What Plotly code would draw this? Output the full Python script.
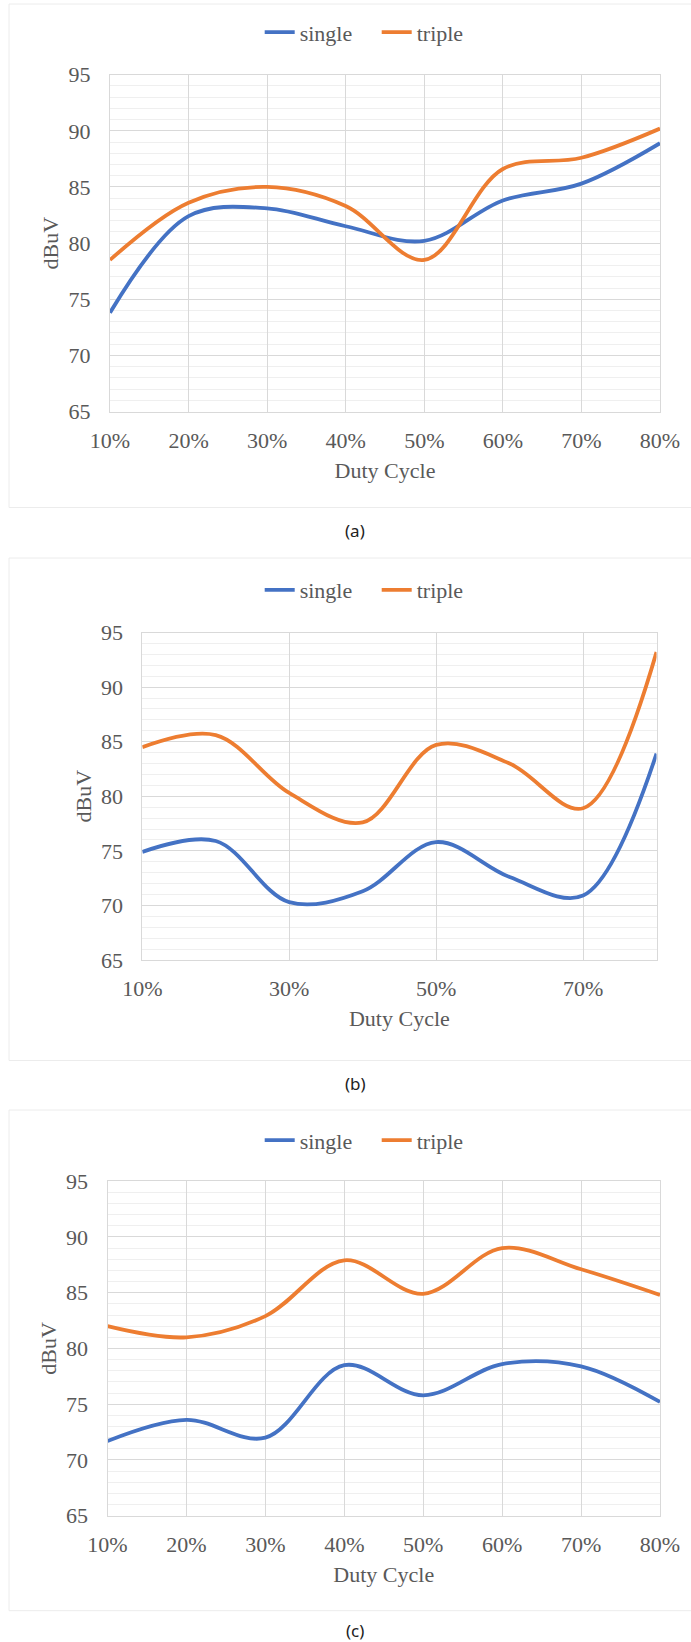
import plotly.graph_objects as go

# ---------------- data ----------------
duty = ["10%", "20%", "30%", "40%", "50%", "60%", "70%", "80%"]

a_single = [73.8, 82.4, 83.1, 81.5, 80.2, 83.8, 85.3, 88.9]
a_triple = [78.5, 83.6, 85.0, 83.3, 78.5, 86.6, 87.6, 90.2]

b_single = [74.9, 75.9, 70.3, 71.3, 75.8, 72.6, 70.9, 83.9]
b_triple = [84.5, 85.6, 80.3, 77.6, 84.7, 83.0, 78.9, 93.2]

c_single = [71.7, 73.6, 72.0, 78.5, 75.8, 78.6, 78.4, 75.2]
c_triple = [82.0, 81.0, 82.9, 87.9, 84.9, 89.0, 87.1, 84.8]

y_ticks = [65, 70, 75, 80, 85, 90, 95]
captions = ["(a)", "(b)", "(c)"]

# ---------------- style ----------------
W, H = 691, 1642
BLUE = "#4472C4"
ORANGE = "#ED7D31"
TXT = "#595959"
SERIF = "Liberation Serif"
GRID = "#d9d9d9"
MINOR = "#efefef"

# panel geometry in pixels
panels = [
    dict(l=110.0, r=660.0, t=74.7, b=411.5, leg=32.3, bt=4.0, bb=507.5, cap=530.0,
         single=a_single, triple=a_triple, xt=duty),
    dict(l=142.3, r=656.5, t=632.5, b=960.0, leg=590.0, bt=558.0, bb=1060.5, cap=1083.0,
         single=b_single, triple=b_triple, xt=duty[::2]),
    dict(l=107.5, r=660.0, t=1181.2, b=1515.7, leg=1140.4, bt=1110.0, bb=1610.7, cap=1630.5,
         single=c_single, triple=c_triple, xt=duty),
]

fig = go.Figure()
shapes = []
annotations = []
layout_extra = {}

for i, p in enumerate(panels):
    n = "" if i == 0 else str(i + 1)
    xa, ya = "x" + n, "y" + n
    leg = "legend" + n
    fig.add_trace(go.Scatter(
        x=duty, y=p["single"], name="single", mode="lines",
        line=dict(color=BLUE, width=3.8, shape="spline", smoothing=1.0),
        xaxis=xa, yaxis=ya, legend=leg, showlegend=True))
    fig.add_trace(go.Scatter(
        x=duty, y=p["triple"], name="triple", mode="lines",
        line=dict(color=ORANGE, width=3.8, shape="spline", smoothing=1.0),
        xaxis=xa, yaxis=ya, legend=leg, showlegend=True))

    layout_extra["xaxis" + n] = dict(
        domain=[p["l"] / W, p["r"] / W],
        type="category", categoryorder="array", categoryarray=duty,
        range=[0, len(duty) - 1],
        tickmode="array", tickvals=p["xt"], ticktext=p["xt"],
        showgrid=True, gridcolor=GRID, gridwidth=1,
        showline=True, linecolor=GRID, linewidth=1, mirror=True,
        ticks="", ticklabelstandoff=9, automargin=False,
        tickfont=dict(family=SERIF, size=22, color=TXT),
        title=dict(text="Duty Cycle", font=dict(family=SERIF, size=22, color=TXT), standoff=10),
        anchor=ya, zeroline=False, fixedrange=True,
    )
    layout_extra["yaxis" + n] = dict(
        domain=[1 - p["b"] / H, 1 - p["t"] / H],
        range=[65, 95], tickmode="array", tickvals=y_ticks,
        showgrid=True, gridcolor=GRID, gridwidth=1,
        minor=dict(dtick=1, showgrid=True, gridcolor=MINOR, gridwidth=1),
        showline=True, linecolor=GRID, linewidth=1, mirror=True,
        ticks="", ticklabelstandoff=14, automargin=False,
        tickfont=dict(family=SERIF, size=22, color=TXT),
        title=dict(text="dBuV", font=dict(family=SERIF, size=22, color=TXT), standoff=3),
        anchor=xa, zeroline=False, fixedrange=True,
    )
    layout_extra[leg] = dict(
        orientation="h", x=259.7 / W, xanchor="left",
        y=1 - p["leg"] / H, yanchor="middle",
        font=dict(family=SERIF, size=22, color=TXT),
        bgcolor="rgba(0,0,0,0)", itemwidth=30, entrywidth=72, tracegroupgap=0,
    )
    shapes.append(dict(
        type="rect", xref="paper", yref="paper",
        x0=9 / W, x1=1.02, y0=1 - p["bb"] / H, y1=1 - p["bt"] / H,
        line=dict(color="#ececec", width=1), fillcolor="rgba(0,0,0,0)", layer="below"))
    annotations.append(dict(
        text=captions[i], xref="paper", yref="paper",
        x=355 / W, y=1 - p["cap"] / H, xanchor="center", yanchor="middle",
        showarrow=False, font=dict(family="Noto Sans", size=17, color="#222222")))

fig.update_layout(
    width=W, height=H,
    margin=dict(l=0, r=0, t=0, b=0, pad=0, autoexpand=False),
    font=dict(family=SERIF, size=22, color=TXT),
    paper_bgcolor="white", plot_bgcolor="white",
    shapes=shapes, annotations=annotations,
    **layout_extra,
)

fig.write_html("out.html", config=dict(displayModeBar=False))
